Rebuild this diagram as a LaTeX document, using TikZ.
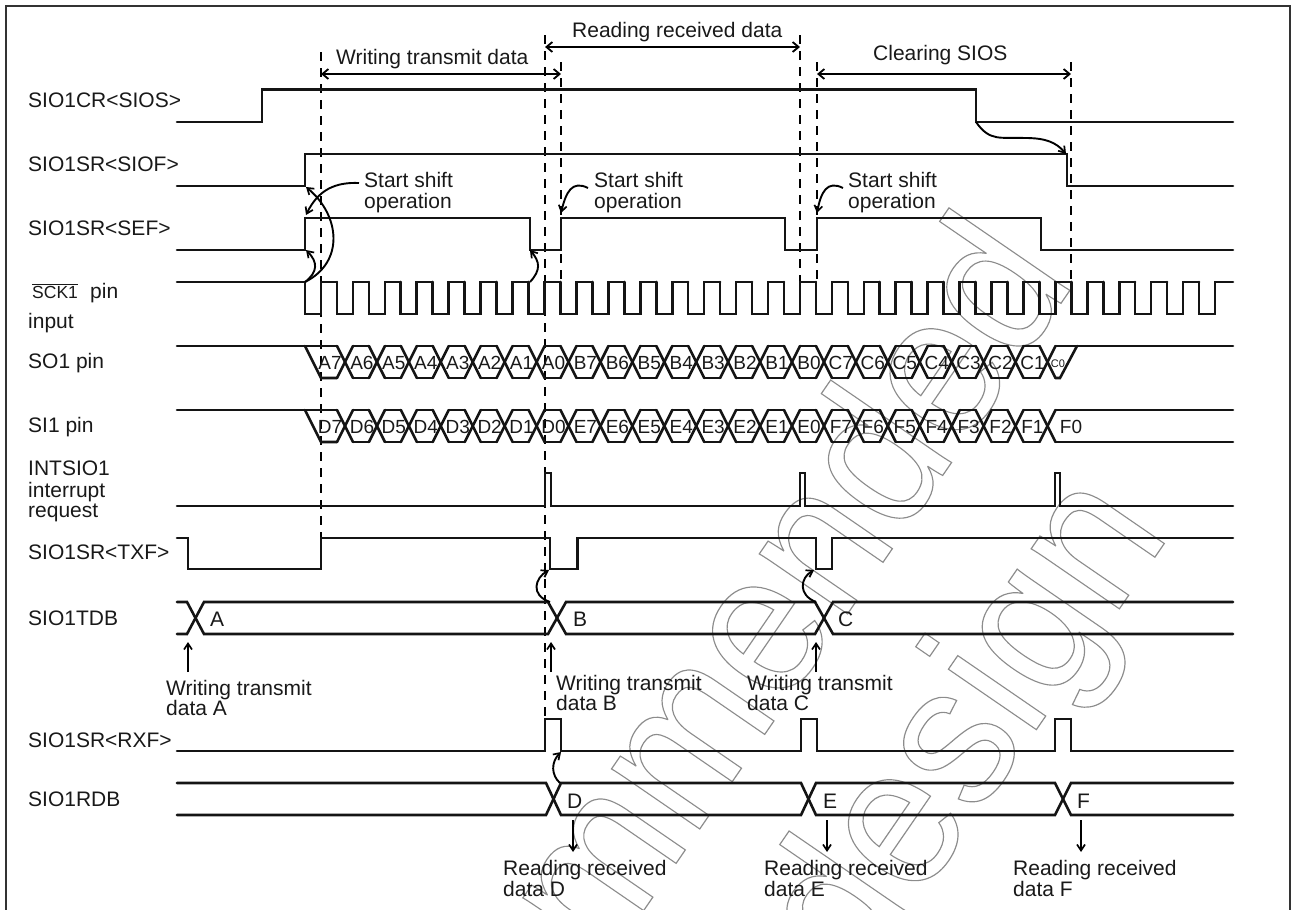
\documentclass[tikz,border=0pt]{standalone}
\usepackage{fontspec}
\setmainfont{Liberation Sans}
\usetikzlibrary{arrows.meta}
\tikzset{
  sig/.style={line width=2.6pt,line join=miter,line cap=round,black!92},
  guide/.style={line width=2.1pt,dash pattern=on 9pt off 7pt,black},
  span/.style={line width=2pt,{Straight Barb[length=6pt,width=10pt,line width=1.8pt]}-{Straight Barb[length=6pt,width=10pt,line width=1.8pt]}},
  mark arrow/.style={line width=1.9pt,-{Straight Barb[length=6pt,width=8pt,line width=1.7pt]}},
  lab/.style={anchor=base west,inner sep=0pt,font=\fontsize{21}{21}\selectfont,black!90},
  bit/.style={anchor=base,inner sep=0pt,font=\fontsize{19}{19}\selectfont,black!90},
  wm/.style={anchor=base east,inner sep=0pt,rotate=55.5,xscale=.93,font=\fontsize{202}{202}\selectfont,black!45}
}
\newcommand{\outlined}[1]{\special{pdf:code 1 Tr 1.2 w}#1\special{pdf:code 0 Tr}}
\begin{document}
\begin{tikzpicture}[x=1pt,y=-1pt]
\useasboundingbox (0,0) rectangle (1294,910);
% watermark
\begin{scope}
\clip (6,6) rectangle (1290,910);
\node[wm] (wmone) at (1077,280) {\outlined{Recommended}};
\node[wm] (wmtwo) at (1171.5,533) {\outlined{new design}};
\end{scope}
% frame
\draw[line width=2pt,black!80] (6,910) -- (6,5.5) -- (1290,5.5) -- (1290,910);
% guides
\draw[guide] (321,52) -- (321,538);
\draw[guide] (545,35) -- (545,719);
\draw[guide] (561,62) -- (561,282);
\draw[guide] (800,35) -- (800,282);
\draw[guide] (817,62) -- (817,282);
\draw[guide] (1071,62) -- (1071,282);
% spans
\draw[span] (321,74) -- (561,74);
\draw[span] (545,47) -- (800,47);
\draw[span] (817,74) -- (1071,74);
\node[lab] (tw) at (336,64) {Writing transmit data};
\node[lab] (tr) at (572,37) {Reading received data};
\node[lab] (tc) at (873,60) {Clearing SIOS};
% signal labels
\node[lab] (l1) at (28,107) {SIO1CR<SIOS>};
\node[lab] (l2) at (28,171) {SIO1SR<SIOF>};
\node[lab] (l3) at (28,235) {SIO1SR<SEF>};
\node[lab,font=\fontsize{17.5}{17.5}\selectfont] (l4) at (32,298) {$\overline{\hbox{SCK1}}$};
\node[lab] (l4b) at (90,298) {pin};
\node[lab] (l4c) at (28,328) {input};
\node[lab] (l5) at (28,368) {SO1 pin};
\node[lab] (l6) at (28,432) {SI1 pin};
\node[lab] (l7) at (28,475) {INTSIO1};
\node[lab] (l7b) at (28,497) {interrupt};
\node[lab] (l7c) at (28,517) {request};
\node[lab] (l8) at (28,559) {SIO1SR<TXF>};
\node[lab] (l9) at (28,625) {SIO1TDB};
\node[lab] (l10) at (28,747) {SIO1SR<RXF>};
\node[lab] (l11) at (28,806) {SIO1RDB};
% simple signals
\draw[sig] (177,122) -- (262,122) -- (262,89.5) -- (976,89.5) -- (976,122) -- (1233,122);
\draw[sig] (177,186) -- (305,186) -- (305,154) -- (1067,154) -- (1067,186) -- (1233,186);
\draw[sig] (177,250) -- (305,250) -- (305,218) -- (530,218) -- (530,250) -- (561,250) -- (561,218) -- (785,218) -- (785,250) -- (817,250) -- (817,218) -- (1041,218) -- (1041,250) -- (1233,250);
% clock
\draw[sig] (177,282) -- (305,282);
\foreach \k in {0,...,28}{
  \pgfmathsetmacro\f{305+31.93*\k}
  \draw[sig] (\f,282) -- (\f,314) -- (\f+16,314) -- (\f+16,282) -- (\f+31.93,282);
}
\draw[sig] (1230,282) -- (1233,282);
% data buses
\foreach \hi/\lo in {346/378,410/442}{
  \draw[sig] (177,\hi) -- (305,\hi) -- (337,\hi);
  \draw[sig] (305,\hi) -- (321,\lo) -- (337,\lo);
  \foreach \j in {0,...,22}{
    \pgfmathsetmacro\c{345+31.93*\j}
    \draw[sig] (\c-8,\hi) -- (\c+8,\lo);
    \draw[sig] (\c-8,\lo) -- (\c+8,\hi);
    \ifnum\j<22
      \draw[sig] (\c+8,\hi) -- (\c+23.93,\hi);
      \draw[sig] (\c+8,\lo) -- (\c+23.93,\lo);
    \fi
  }
}
\draw[sig] (1055.5,346) -- (1233,346);
\draw[sig] (1055.5,378) -- (1060,378) -- (1077,346);
\draw[sig] (1055.5,410) -- (1233,410);
\draw[sig] (1055.5,442) -- (1233,442);
% bit labels
\foreach \t [count=\j from 0] in {A7,A6,A5,A4,A3,A2,A1,A0,B7,B6,B5,B4,B3,B2,B1,B0,C7,C6,C5,C4,C3,C2,C1}{
  \pgfmathsetmacro\c{330+31.93*\j}
  \node[bit] (so\j) at (\c,369) {\t};
}
\node[bit,font=\fontsize{11}{11}\selectfont] (soz) at (1058,367) {C0};
\foreach \t [count=\j from 0] in {D7,D6,D5,D4,D3,D2,D1,D0,E7,E6,E5,E4,E3,E2,E1,E0,F7,F6,F5,F4,F3,F2,F1}{
  \pgfmathsetmacro\c{330+31.93*\j}
  \node[bit] (si\j) at (\c,433) {\t};
}
\node[bit] (siz) at (1071,433) {F0};
% interrupt
\draw[sig] (177,506) -- (545,506) -- (545,473) -- (551,473) -- (551,506) -- (800,506) -- (800,473) -- (805,473) -- (805,506) -- (1055,506) -- (1055,473) -- (1060,473) -- (1060,506) -- (1233,506);
% TXF
\draw[sig] (177,538) -- (188,538) -- (188,569) -- (321,569) -- (321,538) -- (550,538) -- (550,569) -- (577.5,569) -- (577.5,538) -- (816,538) -- (816,569) -- (832,569) -- (832,538) -- (1233,538);
% TDB
\draw[sig] (177,602) -- (187,602) -- (204,634) -- (548,634) -- (566,602) -- (815,602) -- (833,634) -- (1233,634);
\draw[sig] (177,634) -- (187,634) -- (204,602) -- (548,602) -- (566,634) -- (815,634) -- (833,602) -- (1233,602);
% RXF
\draw[sig] (177,751) -- (545,751) -- (545,719) -- (561,719) -- (561,751) -- (801,751) -- (801,719) -- (817,719) -- (817,751) -- (1055,751) -- (1055,719) -- (1071,719) -- (1071,751) -- (1233,751);
% RDB
\draw[sig] (177,783) -- (546,783) -- (561,815) -- (801,815) -- (816,783) -- (1055,783) -- (1071,815) -- (1233,815);
\draw[sig] (177,815) -- (546,815) -- (561,783) -- (801,783) -- (816,815) -- (1055,815) -- (1071,783) -- (1233,783);
% bus letters
\node[lab] (la) at (210,626) {A};
\node[lab] (lb) at (573,626) {B};
\node[lab] (lc) at (838,626) {C};
\node[lab] (ld) at (567,808) {D};
\node[lab] (le) at (823,808) {E};
\node[lab] (lf) at (1077,808) {F};
% notes
\foreach \x/\n in {364/a,594/b,848/c}{
  \node[lab] (ss\n) at (\x,187) {Start shift};
  \node[lab] (so\n) at (\x,208) {operation};
}
\node[lab] (wa) at (166,695) {Writing transmit};
\node[lab] (wa2) at (166,715) {data A};
\node[lab] (wb) at (556,690) {Writing transmit};
\node[lab] (wb2) at (556,710) {data B};
\node[lab] (wc) at (747,690) {Writing transmit};
\node[lab] (wc2) at (747,710) {data C};
\node[lab] (rd) at (503,875) {Reading received};
\node[lab] (rd2) at (503,896) {data D};
\node[lab] (re) at (764,875) {Reading received};
\node[lab] (re2) at (764,896) {data E};
\node[lab] (rf) at (1013,875) {Reading received};
\node[lab] (rf2) at (1013,896) {data F};
% straight arrows
\draw[mark arrow] (188,672) -- (188,642);
\draw[mark arrow] (551,672) -- (551,642);
\draw[mark arrow] (816,672) -- (816,642);
\draw[mark arrow] (573,820) -- (573,852);
\draw[mark arrow] (827,820) -- (827,852);
\draw[mark arrow] (1081,820) -- (1081,852);
% curved arrows
\draw[mark arrow] (359,183) .. controls (335,182) and (318,190) .. (306,215);
\draw[mark arrow] (305,282) .. controls (345,262) and (340,215) .. (306,187);
\draw[mark arrow] (305,282) .. controls (318,272) and (318,262) .. (306,250);
\draw[mark arrow] (530,282) .. controls (541,270) and (540,262) .. (530,250);
\draw[mark arrow] (588,188) .. controls (572,180) and (566,192) .. (561,213);
\draw[mark arrow] (843,188) .. controls (827,180) and (821,192) .. (817,213);
\draw[mark arrow] (976,122) .. controls (990,142) and (1000,137) .. (1025,138) .. controls (1045,138) and (1056,142) .. (1066,154);
\draw[mark arrow] (550,602) .. controls (530,595) and (535,578) .. (549,570);
\draw[mark arrow] (816,602) .. controls (798,595) and (800,578) .. (814,570);
\draw[mark arrow] (560,783) .. controls (551,775) and (551,762) .. (561,752);
\end{tikzpicture}
\end{document}
